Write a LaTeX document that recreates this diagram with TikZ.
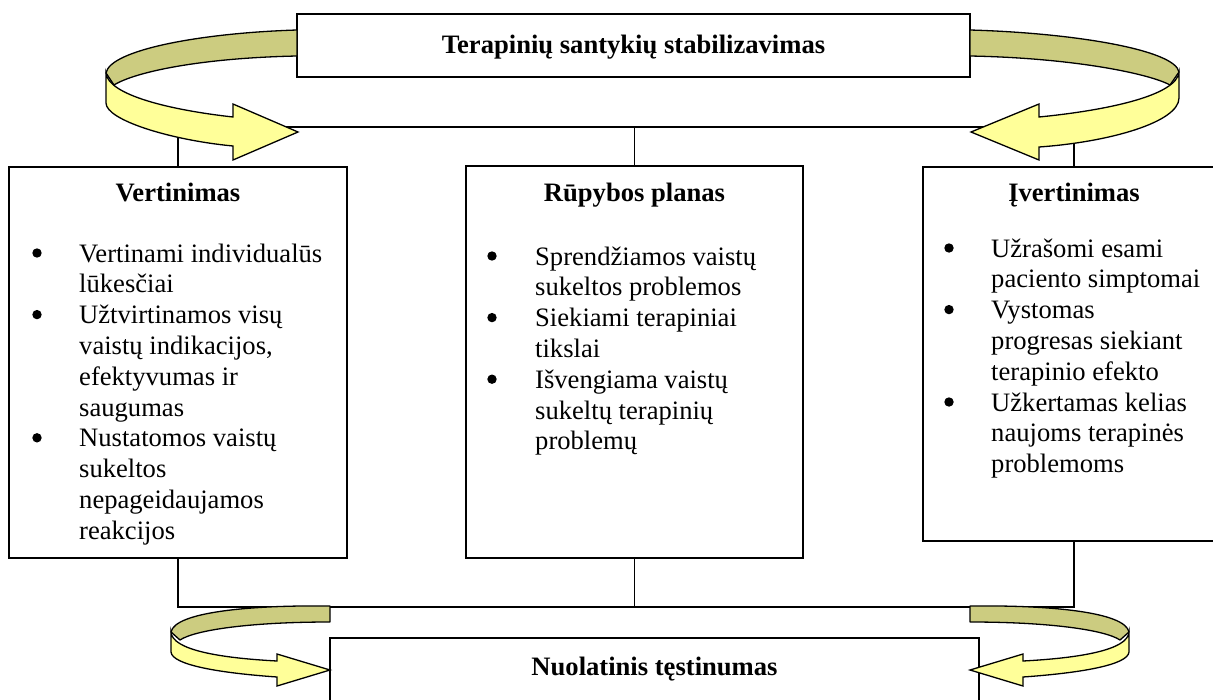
\documentclass[tikz,border=0pt]{standalone}
\usepackage{fontspec}
\setmainfont{Liberation Serif}
\definecolor{bandback}{RGB}{204,204,128}
\definecolor{bandfront}{RGB}{255,255,153}
\tikzset{
  panel/.style={draw=black, fill=white, line width=1.8, inner sep=0},
  link/.style={draw=black, line width=1.3},
  backband/.style={fill=bandback, draw=black, line width=1.3, line join=round},
  frontband/.style={fill=bandfront, draw=black, line width=1.3, line join=miter},
  txt/.style={font=\fontsize{26.6}{30.8}\selectfont, inner sep=0},
  head/.style={txt, font=\fontsize{26.6}{30.8}\selectfont\bfseries, anchor=base},
  list/.style={txt, anchor=base west},
  dot/.style={fill=black},
}
\begin{document}
\begin{tikzpicture}[x=1pt,y=-1pt]
\useasboundingbox (0,0) rectangle (1213,699);
\clip (0,0) rectangle (1213,699);

% boxes
\node[panel, minimum width=673, minimum height=63]  (topbox)   at (633.5,45.5) {};
\node[panel, minimum width=338, minimum height=391] (leftbox)  at (178,362.5) {};
\node[panel, minimum width=337, minimum height=392] (midbox)   at (634.5,362) {};
\node[panel, minimum width=302, minimum height=374] (rightbox) at (1074,354) {};
\node[panel, minimum width=649, minimum height=122] (botbox)   at (654.5,699) {};

% connectors
\draw[link] (leftbox.north) -- ++(0,-39) -| (rightbox.north);
\draw[link] (midbox.north) -- ++(0,-38);
\draw[link] (leftbox.south) -- ++(0,48) -| (rightbox.south);
\draw[link] (midbox.south) -- ++(0,48);

% upper left turning band
\path[backband] (297,30) .. controls (200,33) and (110,50) .. (106,73)
  -- (114,85) .. controls (135,72) and (200,58) .. (297,56) -- cycle;
\path[frontband] (106,73) .. controls (108,95) and (170,110) .. (233,117)
  -- (233,104) -- (298,132) -- (233,160) -- (233,146)
  .. controls (170,140) and (106,120) .. (106,103) -- cycle;

% upper right turning band
\path[backband] (970,30) .. controls (1075,33) and (1175,50) .. (1179,72)
  -- (1170,85) .. controls (1150,74) and (1075,58) .. (970,56) -- cycle;
\path[frontband] (1179,72) .. controls (1177,95) and (1110,110) .. (1039,117)
  -- (1039,104) -- (971,132) -- (1039,160) -- (1039,147)
  .. controls (1110,142) and (1179,122) .. (1179,98) -- cycle;

% lower left turning band
\path[backband] (330,606) .. controls (250,605) and (175,612) .. (171,632)
  -- (180,640) .. controls (195,630) and (250,622) .. (330,622) -- cycle;
\path[frontband] (171,632) .. controls (172,650) and (220,658) .. (277,661)
  -- (277,654) -- (330,670) -- (277,686) -- (277,677)
  .. controls (220,673) and (172,665) .. (171,652) -- cycle;

% lower right turning band
\path[backband] (970,606) .. controls (1050,605) and (1125,612) .. (1129,632)
  -- (1120,640) .. controls (1105,630) and (1050,622) .. (970,622) -- cycle;
\path[frontband] (1129,632) .. controls (1128,650) and (1080,658) .. (1023,661)
  -- (1023,654) -- (970,670) -- (1023,686) -- (1023,677)
  .. controls (1080,673) and (1128,665) .. (1129,652) -- cycle;

% titles
\node[head] (toptitle)  at (633.5,53) {Terapinių santykių stabilizavimas};
\node[head] (bottitle)  at (654.5,675) {Nuolatinis tęstinumas};
\node[head] (lefthead)  at (178,201) {Vertinimas};
\node[head] (midhead)   at (634.5,201) {Rūpybos planas};
\node[head] (righthead) at (1074,201) {Įvertinimas};

% lists
\node[list] (leftlist) at (79,262) {\begin{tabular}[t]{@{}l@{}}
  Vertinami individualūs\\ lūkesčiai\\ Užtvirtinamos visų\\ vaistų indikacijos,\\
  efektyvumas ir\\ saugumas\\ Nustatomos vaistų\\ sukeltos\\ nepageidaujamos\\ reakcijos
  \end{tabular}};
\node[list] (midlist) at (535,265) {\begin{tabular}[t]{@{}l@{}}
  Sprendžiamos vaistų\\ sukeltos problemos\\ Siekiami terapiniai\\ tikslai\\
  Išvengiama vaistų\\ sukeltų terapinių\\ problemų
  \end{tabular}};
\node[list] (rightlist) at (991,257) {\begin{tabular}[t]{@{}l@{}}
  Užrašomi esami\\ paciento simptomai\\ Vystomas\\ progresas siekiant\\
  terapinio efekto\\ Užkertamas kelias\\ naujoms terapinės\\ problemoms
  \end{tabular}};

% bullets
\foreach \i in {0,2,6} \fill[dot] (37,{262+30.8*\i-9}) circle (4.7);
\foreach \i in {0,2,4} \fill[dot] (492,{265+30.8*\i-9}) circle (4.7);
\foreach \i in {0,2,5} \fill[dot] (949,{257+30.8*\i-9}) circle (4.7);
\end{tikzpicture}
\end{document}
